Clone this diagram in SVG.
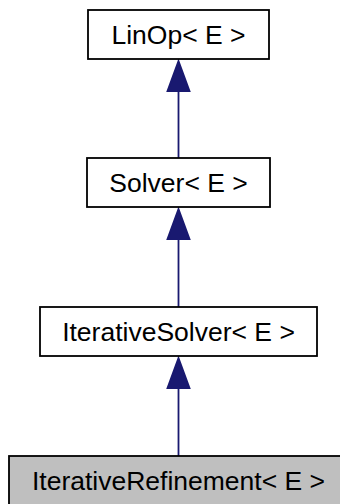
<svg xmlns="http://www.w3.org/2000/svg" width="340" height="504" viewBox="0 0 340 504">
<style>
.box{fill:#ffffff;stroke:#000000;stroke-width:1.8}
.cur{fill:#bfbfbf;stroke:#000000;stroke-width:1.8}
.lbl{font-family:"Liberation Sans",Arial,sans-serif;font-size:26.5px;fill:#000000;text-anchor:middle}
.edge{stroke:#191970;stroke-width:1.8;fill:none}
.head{fill:#191970;stroke:#191970;stroke-width:1.8}
</style>
<rect width="340" height="504" fill="#ffffff"/>
<g id="connectors">
<line class="edge" x1="178.5" y1="91" x2="178.5" y2="158"/>
<polygon class="head" points="178.5,61 167.5,91 189.5,91"/>
<line class="edge" x1="178.5" y1="239" x2="178.5" y2="307"/>
<polygon class="head" points="178.5,209 167.5,239 189.5,239"/>
<line class="edge" x1="178.5" y1="388" x2="178.5" y2="456"/>
<polygon class="head" points="178.5,358 167.5,388 189.5,388"/>
</g>
<g id="node-linop">
<rect class="box" x="88" y="10" width="181" height="49"/>
<text class="lbl" x="178.5" y="44">LinOp&lt; E &gt;</text>
</g>
<g id="node-solver">
<rect class="box" x="87" y="158" width="183" height="49"/>
<text class="lbl" x="178.5" y="192">Solver&lt; E &gt;</text>
</g>
<g id="node-iterativesolver">
<rect class="box" x="40" y="307" width="277" height="49"/>
<text class="lbl" x="178.5" y="341">IterativeSolver&lt; E &gt;</text>
</g>
<g id="node-iterativerefinement">
<rect class="cur" x="9" y="456" width="340" height="49"/>
<text class="lbl" x="178.5" y="490">IterativeRefinement&lt; E &gt;</text>
</g>
</svg>
